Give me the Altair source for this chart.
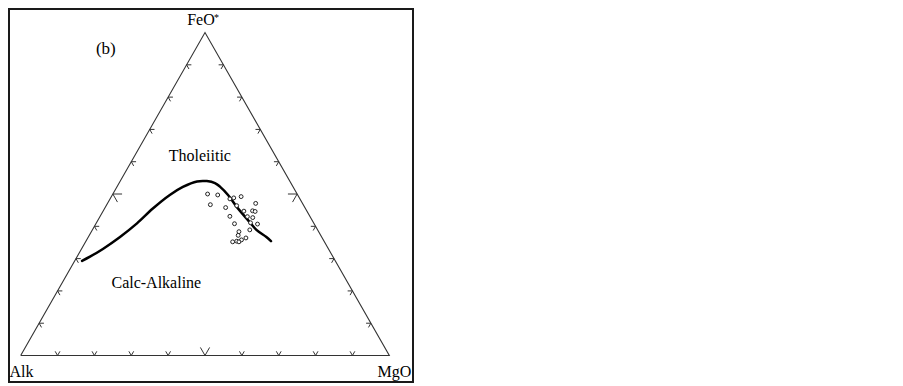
import altair as alt
import pandas as pd

# ---- data (ternary percentages: Alk, FeO*, MgO) ----
curve_alk = [68.7, 65.9, 61.2, 54.7, 48.0, 41.4, 34.7, 29.9, 25.2, 22.5, 20.6, 19.8, 18.9, 18.4, 17.4, 16.6, 15.0, 14.4]
curve_feo = [29.3, 30.6, 33.0, 36.7, 40.9, 45.5, 49.7, 52.2, 53.9, 54.0, 53.4, 52.3, 49.7, 46.1, 42.0, 38.9, 36.7, 35.4]
curve_mgo = [2.0, 3.5, 5.8, 8.6, 11.1, 13.1, 15.6, 17.9, 20.9, 23.5, 26.0, 27.9, 31.4, 35.5, 40.6, 44.5, 48.3, 50.2]

sample_alk = [24.3, 21.7, 25.2, 21.5, 19.0, 17.8, 15.6, 18.2, 21.7, 17.1, 12.7, 14.7, 14.1, 17.0, 15.7, 21.6, 17.1, 15.4, 18.4, 21.6, 22.4, 20.7, 22.2, 23.7, 24.9, 23.2]
sample_feo = [50.0, 49.7, 46.7, 45.8, 48.5, 48.8, 49.2, 46.4, 43.1, 44.7, 47.1, 44.8, 44.6, 43.0, 42.7, 40.8, 41.1, 40.7, 38.9, 38.3, 37.2, 36.4, 35.8, 35.4, 35.2, 35.2]
sample_mgo = [25.7, 28.6, 28.1, 32.7, 32.5, 33.4, 35.2, 35.4, 35.2, 38.2, 40.2, 40.5, 41.3, 40.0, 41.6, 37.6, 41.8, 43.9, 42.7, 40.0, 40.4, 42.9, 42.0, 40.9, 39.9, 41.6]

vertex_names = ["Alk", "FeO", "MgO"]
vertex_alk = [100, 0, 0]
vertex_feo = [0, 100, 0]
vertex_mgo = [0, 0, 100]

tick_values = [10, 20, 30, 40, 50, 60, 70, 80, 90]

# annotation labels (cartesian ternary units: x = MgO + FeO/2, y = FeO)
label_text = ["FeO", "*", "Alk", "MgO", "(b)", "Tholeiitic", "Calc-Alkaline"]
label_x = [48.9, 53.1, 0.2, 101.4, 23.1, 48.6, 36.8]
label_y = [102.2, 103.6, -6.6, -6.6, 93.3, 60.2, 20.9]
label_size = [16, 10, 16, 16, 17, 16, 16]

FONT = "Liberation Serif"

# ---- tables ----
curve = pd.DataFrame({"alk": curve_alk, "feo": curve_feo, "mgo": curve_mgo,
                      "i": list(range(len(curve_alk)))})
samples = pd.DataFrame({"alk": sample_alk, "feo": sample_feo, "mgo": sample_mgo})
order = [0, 1, 2, 0]
tri = pd.DataFrame({"alk": [vertex_alk[k] for k in order],
                    "feo": [vertex_feo[k] for k in order],
                    "mgo": [vertex_mgo[k] for k in order],
                    "i": list(range(4))})
labels = pd.DataFrame({"text": label_text, "x": label_x, "y": label_y, "size": label_size})

rows = []
for t in tick_values:
    L = 2.5 if t == 50 else 1.3
    # bottom edge (Alk-MgO): point MgO=t, FeO=0
    ax, ay = t, 0
    rows.append((ax, ay, ax + L / 2, ay + L))
    rows.append((ax, ay, ax - L / 2, ay + L))
    # left edge (Alk-FeO): FeO=t, MgO=0
    ax, ay = t / 2, t
    rows.append((ax, ay, ax + L, ay))
    rows.append((ax, ay, ax + L / 2, ay - L))
    # right edge (FeO-MgO): FeO=t, MgO=100-t
    ax, ay = (100 - t) + t / 2, t
    rows.append((ax, ay, ax - L, ay))
    rows.append((ax, ay, ax - L / 2, ay - L))
ticks = pd.DataFrame(rows, columns=["x", "y", "x2", "y2"])

xs = alt.Scale(domain=[-3.445, 106.70], nice=False, zero=False)
ys = alt.Scale(domain=[-8.51, 107.59], nice=False, zero=False)


def tern(base):
    return base.transform_calculate(
        cx="(datum.mgo + datum.feo/2) * 100 / (datum.alk + datum.feo + datum.mgo)",
        cy="datum.feo * 100 / (datum.alk + datum.feo + datum.mgo)",
    )


triangle = tern(alt.Chart(tri)).mark_line(color="#333333", strokeWidth=1.1).encode(
    x=alt.X("cx:Q", scale=xs, axis=None),
    y=alt.Y("cy:Q", scale=ys, axis=None),
    order="i:O",
)

tick_layer = alt.Chart(ticks).mark_rule(color="#333333", strokeWidth=1).encode(
    x=alt.X("x:Q", scale=xs, axis=None),
    y=alt.Y("y:Q", scale=ys, axis=None),
    x2="x2:Q",
    y2="y2:Q",
)

curve_layer = tern(alt.Chart(curve)).mark_line(color="black", strokeWidth=2.5,
                                                 interpolate="catmull-rom",
                                                 strokeCap="round", strokeJoin="round").encode(
    x=alt.X("cx:Q", scale=xs, axis=None),
    y=alt.Y("cy:Q", scale=ys, axis=None),
    order="i:O",
)

points = tern(alt.Chart(samples)).mark_point(shape="circle", fill="white", fillOpacity=1,
                                               stroke="#222222", strokeWidth=1,
                                               size=15, opacity=1).encode(
    x=alt.X("cx:Q", scale=xs, axis=None),
    y=alt.Y("cy:Q", scale=ys, axis=None),
)

texts = alt.Chart(labels).mark_text(font=FONT, color="black", align="center",
                                     baseline="alphabetic").encode(
    x=alt.X("x:Q", scale=xs, axis=None),
    y=alt.Y("y:Q", scale=ys, axis=None),
    text="text:N",
    size=alt.Size("size:Q", scale=None, legend=None),
)

chart = alt.layer(triangle, tick_layer, curve_layer, points, texts).properties(
    width=406, height=375, padding=0, autosize=alt.AutoSizeParams(type="none"),
    background="white",
).configure_view(stroke="#1a1a1a", strokeWidth=4)

chart.save("out.html", embed_options={"renderer": "svg", "actions": False})
